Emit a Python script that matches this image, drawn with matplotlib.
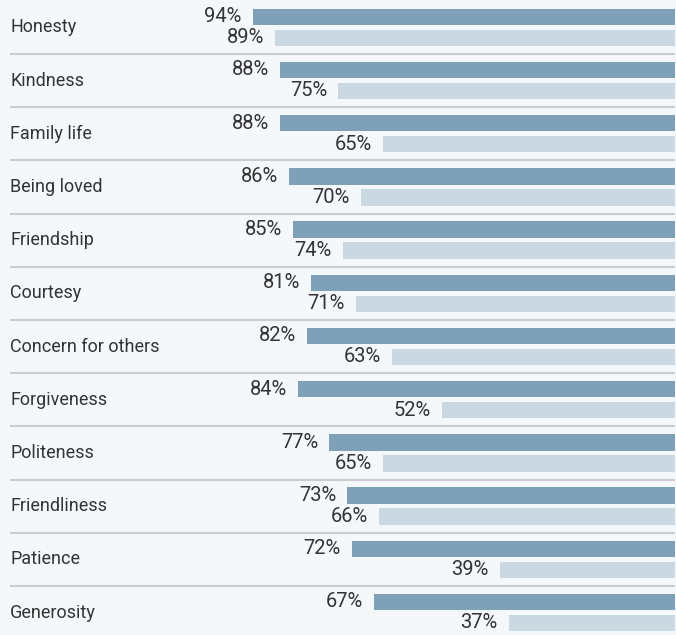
import matplotlib
matplotlib.use("Agg")
import matplotlib.pyplot as plt
import matplotlib.transforms as mtransforms
import numpy as np

categories = ["Honesty", "Kindness", "Family life", "Being loved", "Friendship",
              "Courtesy", "Concern for others", "Forgiveness", "Politeness",
              "Friendliness", "Patience", "Generosity"]
series_a = [94, 88, 88, 86, 85, 81, 82, 84, 77, 73, 72, 67]
series_b = [89, 75, 65, 70, 74, 71, 63, 52, 65, 66, 39, 37]

bg = "#f5f8fb"
dark = "#7fa1b8"
light = "#cad8e2"
txt = "#333333"

plt.rcParams["font.family"] = ["Roboto", "DejaVu Sans"]

fig = plt.figure(figsize=(6.76, 6.35), dpi=100, facecolor=bg)
ax = fig.add_axes([0, 0, 675 / 676, 1])
ax.set_facecolor(bg)

px_per_pct = 4.49
row_px = 53.2
ax.set_xlim(675 / px_per_pct, 0)
ax.set_ylim((635 - 0.8) / row_px, -0.8 / row_px)

y = np.arange(len(categories))
h = 0.31
ax.barh(y + 0.30, series_a, height=h, color=dark)
ax.barh(y + 0.695, series_b, height=h, color=light)

for i in range(1, len(categories)):
    ax.axhline(i, xmin=11 / 675, xmax=674 / 675, color="#cccccc", lw=1.5)

lab = mtransforms.blended_transform_factory(ax.transAxes, ax.transData)
for i, name in enumerate(categories):
    ax.text(10 / 675, i + 0.5, name, transform=lab, ha="left", va="center",
            fontsize=13, color=txt)
    ax.annotate(f"{series_a[i]}%", xy=(series_a[i], i + 0.30), xytext=(-8, 0),
                textcoords="offset points", ha="right", va="center",
                fontsize=14.5, color=txt)
    ax.annotate(f"{series_b[i]}%", xy=(series_b[i], i + 0.695), xytext=(-8, 0),
                textcoords="offset points", ha="right", va="center",
                fontsize=14.5, color=txt)

ax.axis("off")
fig.savefig("out.png", dpi=100, facecolor=bg)
